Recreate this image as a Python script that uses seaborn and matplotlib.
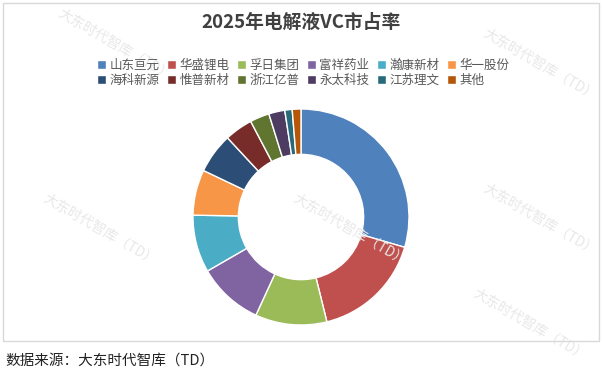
import matplotlib
matplotlib.use('Agg')
import matplotlib.pyplot as plt
import seaborn as sns
from matplotlib.patches import Rectangle

companies = ['山东亘元', '华盛锂电', '孚日集团', '富祥药业', '瀚康新材', '华一股份',
             '海科新源', '惟普新材', '浙江亿普', '永太科技', '江苏理文', '其他']
shares = [29.5, 16.6, 10.7, 9.8, 8.6, 6.8, 6.0, 4.2, 2.9, 2.4, 1.1, 1.3]
colors = ['#4F81BD', '#C0504D', '#9BBB59', '#8064A2', '#4BACC6', '#F79646',
          '#2C4D75', '#772C2A', '#5F7530', '#4D3B62', '#276A7C', '#B65708']

title = '2025年电解液VC市占率'
source = '数据来源：大东时代智库（TD）'
watermark = '大东时代智库（TD）'

sns.set_theme(style='white')
plt.rcParams['font.family'] = ['Noto Sans CJK SC', 'DejaVu Sans']

fig = plt.figure(figsize=(6.02, 3.77), dpi=100)
fig.patch.set_facecolor('white')

# chart frame
fig.patches.append(Rectangle((3 / 602, 1 - 341 / 377), 596 / 602, 338 / 377,
                             transform=fig.transFigure, fill=False,
                             edgecolor='#d9d9d9', linewidth=1))

# watermarks
for x, y in [(115, 45), (540, 65), (100, 230), (350, 230), (540, 220), (530, 325)]:
    fig.text(x / 602, 1 - y / 377, watermark, rotation=-30, fontsize=10,
             color='#e8e8e8', ha='center', va='center', zorder=0)

ax = fig.add_axes([(301 - 108) / 602, (160 - 108) / 377, 216 / 602, 216 / 377])
palette = sns.color_palette(colors)
wedges, _ = ax.pie(shares, colors=palette, startangle=90, counterclock=False,
                   radius=1.0,
                   wedgeprops=dict(width=0.42, edgecolor='white', linewidth=1))
ax.set_xlim(-1, 1)
ax.set_ylim(-1, 1)
ax.set_aspect('equal')
ax.axis('off')

fig.text(301 / 602, 1 - 22 / 377, title, ha='center', va='center',
         fontsize=13.5, fontweight='bold', color='#404040')

# legend fills column by column, so interleave to read row by row
ncol = 6
order = [r * ncol + c for c in range(ncol) for r in range(2)]
fig.legend([wedges[i] for i in order], [companies[i] for i in order],
           loc='center', bbox_to_anchor=(303 / 602, 1 - 73 / 377),
           ncol=ncol, fontsize=9, frameon=False, handlelength=0.7, handleheight=0.7,
           handletextpad=0.3, columnspacing=0.6, labelspacing=0.15,
           labelcolor='#595959')

fig.text(5 / 602, 1 - 361 / 377, source, ha='left', va='center',
         fontsize=10.5, color='#222222')

fig.savefig('out.png', dpi=100)
